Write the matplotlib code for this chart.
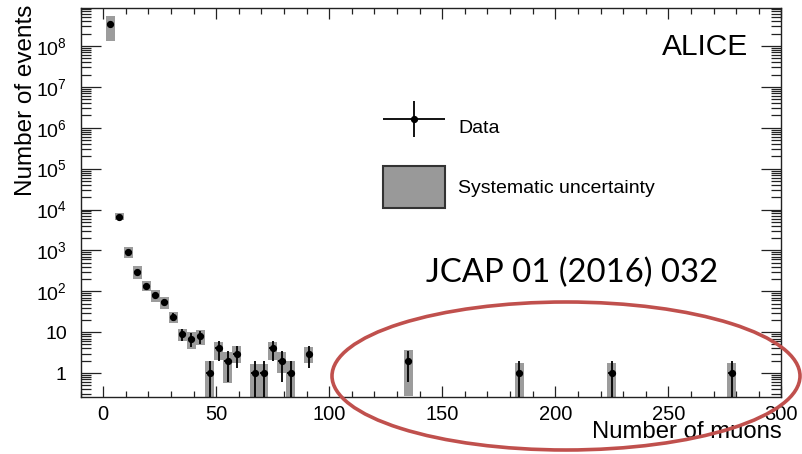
"""
Distribuição do número de múons (ALICE, JCAP 01 (2016) 032) em escala log.
"""
import matplotlib
matplotlib.use('Agg')
import matplotlib.pyplot as plt
from matplotlib.patches import Patch, Ellipse
from matplotlib.container import ErrorbarContainer
from matplotlib.legend_handler import HandlerErrorbar
from matplotlib.ticker import LogLocator, MultipleLocator, FixedLocator, NullFormatter

plt.rcParams['font.family'] = ['Liberation Sans', 'DejaVu Sans']
plt.rcParams['mathtext.fontset'] = 'custom'
plt.rcParams['mathtext.rm'] = 'Liberation Sans'
plt.rcParams['mathtext.it'] = 'Liberation Sans:italic'
plt.rcParams['mathtext.bf'] = 'Liberation Sans:bold'

# valores
n_muons = [3, 7, 11, 15, 19, 23, 27, 31, 35, 39, 43, 47, 51, 55, 59,
           67, 71, 75, 79, 83, 91, 135, 184, 225, 278]
n_events = [3.5e8, 6.6e3, 930, 300, 133, 80, 56, 24, 9, 7, 8, 1, 4, 2, 3,
            1, 1, 4, 2, 1, 3, 2, 1, 1, 1]
stat_lo = [1.9e4, 81, 30, 17, 11.5, 9, 7.5, 4.9, 3, 2.6, 2.8, 0.999, 2, 1.4, 1.7,
           0.999, 0.999, 2, 1.4, 0.999, 1.7, 1.4, 0.999, 0.999, 0.999]
stat_hi = [1.9e4, 81, 30, 17, 11.5, 9, 7.5, 4.9, 3, 2.6, 2.8, 1, 2, 1.4, 1.7,
           1, 1, 2, 1.4, 1, 1.7, 1.4, 1, 1, 1]
sys_lo = [1.3e8, 5.5e3, 660, 195, 100, 56, 37, 17, 6, 3.9, 4.9, 0.1, 2.1, 0.57, 1.76,
          0.1, 0.1, 2.1, 1.0, 0.1, 1.8, 0.27, 0.1, 0.1, 0.1]
sys_hi = [5.5e8, 8.0e3, 1180, 410, 176, 105, 73, 32, 12, 9.9, 11, 1.92, 5.9, 3.3, 4.5,
          1.7, 1.7, 5.9, 3.3, 1.92, 4.3, 3.7, 1.76, 1.76, 1.76]

y_ticks = [1, 10, 1e2, 1e3, 1e4, 1e5, 1e6, 1e7, 1e8]
y_ticklabels = ['1', '10', '$10^{2}$', '$10^{3}$', '$10^{4}$', '$10^{5}$',
                '$10^{6}$', '$10^{7}$', '$10^{8}$']

fig = plt.figure(figsize=(8.02, 4.54), dpi=100)
ax = fig.add_axes([0.1006, 0.1256, 0.8736, 0.8568])

# caixas da incerteza sistemática
heights = [h - l for l, h in zip(sys_lo, sys_hi)]
ax.bar(n_muons, heights, bottom=sys_lo, width=4, color='#9c9c9c',
       edgecolor='none', zorder=2)

data = ax.errorbar(n_muons, n_events, yerr=[stat_lo, stat_hi], xerr=1.5,
                   fmt='o', color='black', markersize=4.2, elinewidth=1.3,
                   capsize=0, zorder=3)

ax.set_yscale('log')
ax.set_xlim(-10, 300)
ax.set_ylim(0.26, 8.5e8)

ax.xaxis.set_major_locator(MultipleLocator(50))
ax.xaxis.set_minor_locator(MultipleLocator(10))
ax.yaxis.set_major_locator(FixedLocator(y_ticks))
ax.set_yticklabels(y_ticklabels)
ax.yaxis.set_minor_locator(LogLocator(base=10, subs=range(2, 10), numticks=20))
ax.yaxis.set_minor_formatter(NullFormatter())

ax.tick_params(axis='both', which='both', direction='in', top=True, right=True,
               width=0.9, color='#222222')
ax.tick_params(axis='x', which='major', length=8, labelsize=14.5, pad=6)
ax.tick_params(axis='x', which='minor', length=4.3)
ax.tick_params(axis='y', which='major', length=14.5, labelsize=14, pad=10)
ax.tick_params(axis='y', which='minor', length=7.2)
for sp in ax.spines.values():
    sp.set_linewidth(1.0)
    sp.set_color('#222222')

ax.set_ylabel('Number of events', fontsize=17.5)
ax.yaxis.set_label_coords(-0.062, 0.763)
ax.set_xlabel('Number of muons', fontsize=17.2, loc='right')
ax.xaxis.set_label_coords(1.0, -0.062)

ax.text(0.9525, 0.899, 'ALICE', transform=ax.transAxes, ha='right', va='center',
        fontsize=21.5)

sys_patch = Patch(facecolor='#999999', edgecolor='#333333', linewidth=1.5)
ax.legend([data, sys_patch], ['Data', 'Systematic uncertainty'],
          loc='upper left', bbox_to_anchor=(0.431, 0.748), frameon=False,
          fontsize=14, handlelength=3.2, handleheight=2.92, labelspacing=0.95,
          handletextpad=0.69, borderpad=0, borderaxespad=0, numpoints=1,
          handler_map={ErrorbarContainer: HandlerErrorbar(xerr_size=1.6, yerr_size=0.93)})

fig.text(571.7 / 802, 1 - 273.3 / 454, 'JCAP 01 (2016) 032', ha='center',
         va='center', fontsize=23.7, family='Lato')

fig.add_artist(Ellipse((566 / 802, 1 - 376 / 454), 468 / 802, 148 / 454,
                       transform=fig.transFigure, fill=False,
                       edgecolor='#C0504D', linewidth=2.6, clip_on=False))

fig.savefig('out.png', dpi=100)
